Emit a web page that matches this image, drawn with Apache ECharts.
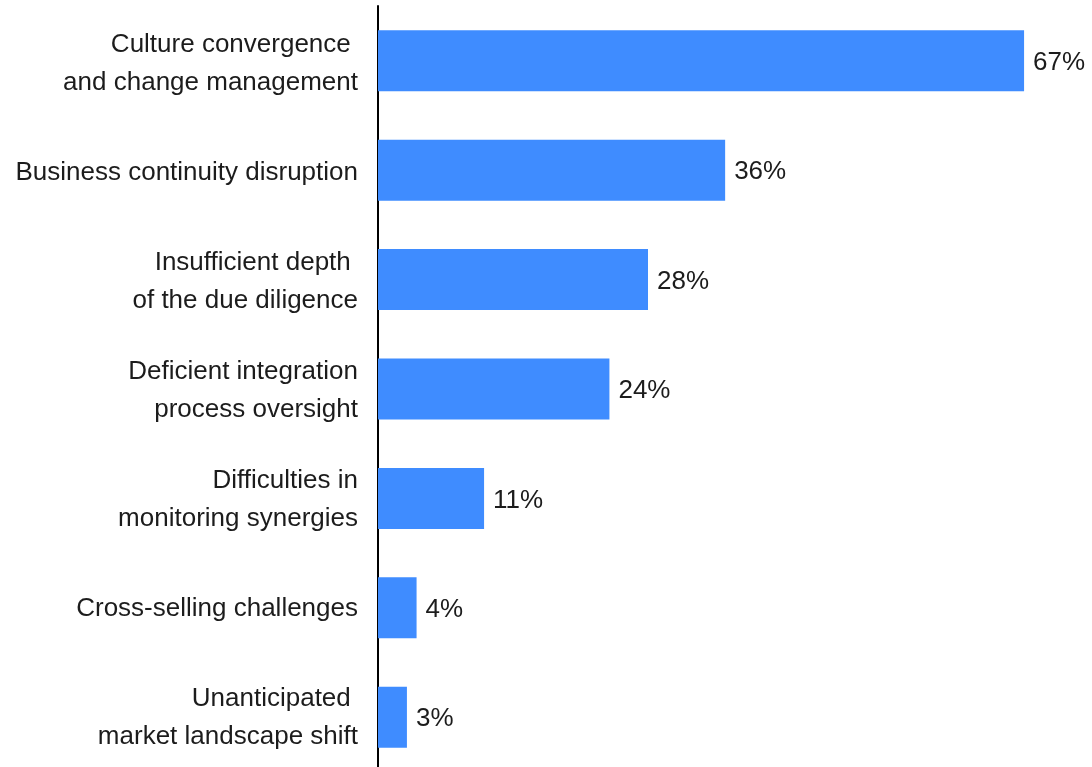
<!DOCTYPE html>
<html>
<head>
<meta charset="utf-8">
<style>
  html, body { margin: 0; padding: 0; background: #ffffff; overflow: hidden; }
  /* slightly taller than the viewport so the axis runs off the bottom edge */
  #chart { width: 1092px; height: 772px; }
</style>
<script src="https://cdn.jsdelivr.net/npm/echarts@6/dist/echarts.min.js"></script>
</head>
<body>
<div id="chart"></div>
<script>
// Integration challenges, share of respondents (%)
const categories = [
  'Culture convergence \nand change management',
  'Business continuity disruption',
  'Insufficient depth \nof the due diligence',
  'Deficient integration\nprocess oversight',
  'Difficulties in\nmonitoring synergies',
  'Cross-selling challenges',
  'Unanticipated \nmarket landscape shift'
];
const values = [67, 36, 28, 24, 11, 4, 3];

const chart = echarts.init(document.getElementById('chart'));
const font = '"Liberation Sans", Arial, Helvetica, sans-serif';

chart.setOption({
  animation: false,
  grid: [
    // bars and axis line
    { left: 378, top: 6, width: 675, bottom: 0, containLabel: false },
    // category labels sit a few pixels lower than the bar centres
    { left: 378, top: 9.5, width: 675, bottom: -3.5, containLabel: false }
  ],
  xAxis: [
    { gridIndex: 0, type: 'value', min: 0, max: 70, show: false },
    { gridIndex: 1, type: 'value', min: 0, max: 70, show: false }
  ],
  yAxis: [
    {
      gridIndex: 0,
      type: 'category',
      data: categories,
      inverse: true,
      axisLine: { show: true, lineStyle: { color: '#000000', width: 2 } },
      axisTick: { show: false },
      splitLine: { show: false },
      axisLabel: { show: false }
    },
    {
      gridIndex: 1,
      type: 'category',
      data: categories,
      inverse: true,
      axisLine: { show: false },
      axisTick: { show: false },
      splitLine: { show: false },
      axisLabel: {
        margin: 20,
        color: '#1c1c1c',
        fontFamily: font,
        fontSize: 26,
        lineHeight: 38,
        align: 'right'
      }
    }
  ],
  series: [{
    type: 'bar',
    xAxisIndex: 0,
    yAxisIndex: 0,
    data: values,
    barWidth: 61,
    itemStyle: { color: '#3f8cff' },
    label: {
      show: true,
      position: 'right',
      distance: 9,
      offset: [0, 2],
      color: '#1c1c1c',
      fontFamily: font,
      fontSize: 26,
      formatter: p => p.value + '%'
    }
  }]
});
</script>
</body>
</html>
